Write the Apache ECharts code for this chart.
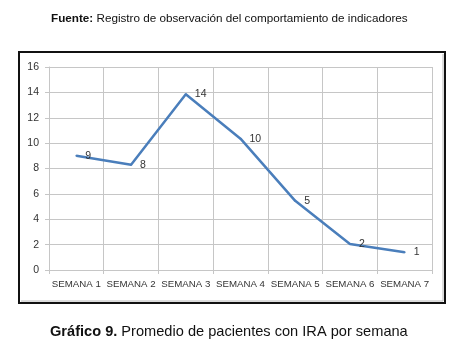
<!DOCTYPE html>
<html>
<head>
<meta charset="utf-8">
<script src="https://cdn.jsdelivr.net/npm/echarts@6/dist/echarts.min.js"></script>
<style>
html,body{margin:0;padding:0;background:#fff;}
#c{width:469px;height:363px;}
</style>
</head>
<body>
<div id="c"></div>
<script>
var categories = ['SEMANA 1','SEMANA 2','SEMANA 3','SEMANA 4','SEMANA 5','SEMANA 6','SEMANA 7'];
var values = [9.0, 8.3, 13.85, 10.35, 5.45, 2.05, 1.4];
var labelTexts = ['9','8','14','10','5','2','1'];
var yTicks = {min: 0, max: 16, interval: 2};
var sourceBold = 'Fuente:';
var sourceText = 'Registro de observación del comportamiento de indicadores';
var captionBold = 'Gráfico 9.';
var captionText = 'Promedio de pacientes con IRA por semana';

var chart = echarts.init(document.getElementById('c'), null, {renderer: 'canvas'});
var gridColor = '#c6c6c6';
var font = "'Liberation Sans', Arial, sans-serif";
chart.setOption({
  animation: false,
  backgroundColor: '#ffffff',
  title: [
    {
      text: '{b|' + sourceBold + '} {r|' + sourceText + '}',
      left: 51, top: 13, padding: 0,
      textStyle: {
        fontWeight: 'normal', fontSize: 11.7, fontFamily: font, color: '#000',
        rich: {
          b: {fontFamily: font, fontSize: 11.7, fontWeight: 'bold', color: '#111'},
          r: {fontFamily: font, fontSize: 11.7, fontWeight: 'normal', color: '#111'}
        }
      }
    },
    {
      text: '{b|' + captionBold + '} {r|' + captionText + '}',
      left: 50, top: 324, padding: 0,
      textStyle: {
        fontWeight: 'normal', fontSize: 14.6, fontFamily: font, color: '#000',
        rich: {
          b: {fontFamily: font, fontSize: 14.6, fontWeight: 'bold', color: '#111'},
          r: {fontFamily: font, fontSize: 14.6, fontWeight: 'normal', color: '#111'}
        }
      }
    }
  ],
  graphic: [
    {type: 'polyline', shape: {points: [[443, 54], [443, 301], [21, 301]]}, style: {fill: 'none', stroke: '#b8b8b8', lineWidth: 1}, z: -10},
    {type: 'rect', shape: {x: 19, y: 52, width: 426, height: 251}, style: {fill: 'none', stroke: '#111', lineWidth: 2}, z: -9}
  ],
  grid: {left: 49, right: 37, top: 67, bottom: 93, containLabel: false},
  xAxis: {
    type: 'category',
    data: categories,
    boundaryGap: true,
    axisLine: {show: true, lineStyle: {color: gridColor, width: 1}},
    axisTick: {show: true, length: 4, lineStyle: {color: gridColor}},
    splitLine: {show: true, showMinLine: true, showMaxLine: true, lineStyle: {color: gridColor, width: 1}},
    axisLabel: {color: '#333', fontFamily: font, fontSize: 9.7, margin: 9, interval: 0}
  },
  yAxis: {
    type: 'value',
    min: yTicks.min, max: yTicks.max, interval: yTicks.interval,
    axisLine: {show: true, lineStyle: {color: gridColor}},
    axisTick: {show: true, length: 4, lineStyle: {color: gridColor}},
    splitLine: {show: true, lineStyle: {color: gridColor, width: 1}},
    axisLabel: {color: '#333', fontFamily: font, fontSize: 10.5, margin: 10}
  },
  series: [{
    type: 'line',
    data: values,
    showSymbol: true,
    symbol: 'circle',
    symbolSize: 2,
    itemStyle: {color: '#4a7ebb'},
    lineStyle: {color: '#4a7ebb', width: 2.5},
    z: 5,
    labelLayout: {hideOverlap: false},
    label: {
      show: true,
      position: 'right',
      distance: 8,
      color: '#333',
      fontFamily: font,
      fontSize: 10.5,
      formatter: function (p) { return labelTexts[p.dataIndex]; }
    }
  }]
});
</script>
</body>
</html>
